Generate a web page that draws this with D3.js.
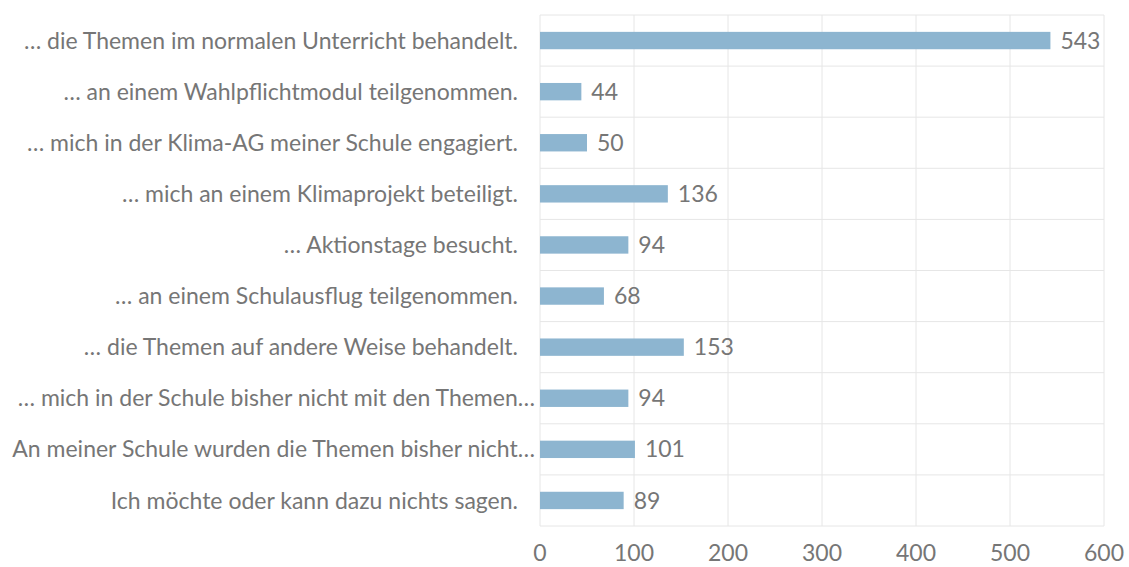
<!DOCTYPE html>
<html>
<head>
<meta charset="utf-8">
<script src="https://cdn.jsdelivr.net/npm/d3@7"></script>
<style>
    body { margin: 0; background: #fff; }
    text { font-family: Lato, "Open Sans", sans-serif; fill: #767676; }
</style>
</head>
<body>
<div id="chart"></div>
<script>
// categories top to bottom
const categories = [
    "\u2026 die Themen im normalen Unterricht behandelt.",
    "\u2026 an einem Wahlpflichtmodul teilgenommen.",
    "\u2026 mich in der Klima-AG meiner Schule engagiert.",
    "\u2026 mich an einem Klimaprojekt beteiligt.",
    "\u2026 Aktionstage besucht.",
    "\u2026 an einem Schulausflug teilgenommen.",
    "\u2026 die Themen auf andere Weise behandelt.",
    "\u2026 mich in der Schule bisher nicht mit den Themen\u2026",
    "An meiner Schule wurden die Themen bisher nicht\u2026",
    "Ich m\u00f6chte oder kann dazu nichts sagen."
];
const values = [543, 44, 50, 136, 94, 68, 153, 94, 101, 89];
const xTicks = [0, 100, 200, 300, 400, 500, 600];

const width = 1129, height = 567;
const margin = {top: 15, right: 25, bottom: 41, left: 540};
const fontSize = 23;

let svg = d3.select("#chart").append("svg")
    .attr("width", width)
    .attr("height", height);

let x = d3.scaleLinear().domain([0, 600]).range([margin.left, width - margin.right]);
let y = d3.scaleBand().domain(categories).range([margin.top, height - margin.bottom]);

// grid
svg.append("g").selectAll("line.v")
    .data(xTicks)
    .enter()
    .append("line")
    .attr("x1", d => x(d)).attr("x2", d => x(d))
    .attr("y1", margin.top).attr("y2", height - margin.bottom)
    .attr("stroke", "#e6e6e6").attr("stroke-width", 1);

let hLines = categories.map(c => y(c)).concat([height - margin.bottom]);
svg.append("g").selectAll("line.h")
    .data(hLines)
    .enter()
    .append("line")
    .attr("x1", x(0)).attr("x2", x(600))
    .attr("y1", d => d).attr("y2", d => d)
    .attr("stroke", "#e6e6e6").attr("stroke-width", 1);

// bars
let barH = y.bandwidth() * 0.34;
svg.append("g").selectAll("rect")
    .data(values)
    .enter()
    .append("rect")
    .attr("x", x(0))
    .attr("y", (d, i) => y(categories[i]) + y.bandwidth() / 2 - barH / 2)
    .attr("width", d => x(d) - x(0))
    .attr("height", barH)
    .attr("fill", "#8db5d0");

// value labels
svg.append("g").selectAll("text")
    .data(values)
    .enter()
    .append("text")
    .attr("x", d => x(d) + 10)
    .attr("y", (d, i) => y(categories[i]) + y.bandwidth() / 2)
    .attr("dy", "0.35em")
    .attr("font-size", fontSize)
    .text(d => d);

// category labels (truncated ones sit closer to the axis, like excel does)
svg.append("g").selectAll("text")
    .data(categories)
    .enter()
    .append("text")
    .attr("x", d => d.endsWith("\u2026") ? margin.left - 5 : margin.left - 22)
    .attr("y", d => y(d) + y.bandwidth() / 2)
    .attr("dy", "0.35em")
    .attr("text-anchor", "end")
    .attr("font-size", fontSize)
    .text(d => d);

// x tick labels
svg.append("g").selectAll("text")
    .data(xTicks)
    .enter()
    .append("text")
    .attr("x", d => x(d))
    .attr("y", height - 6)
    .attr("text-anchor", "middle")
    .attr("font-size", fontSize)
    .text(d => d);
</script>
</body>
</html>
